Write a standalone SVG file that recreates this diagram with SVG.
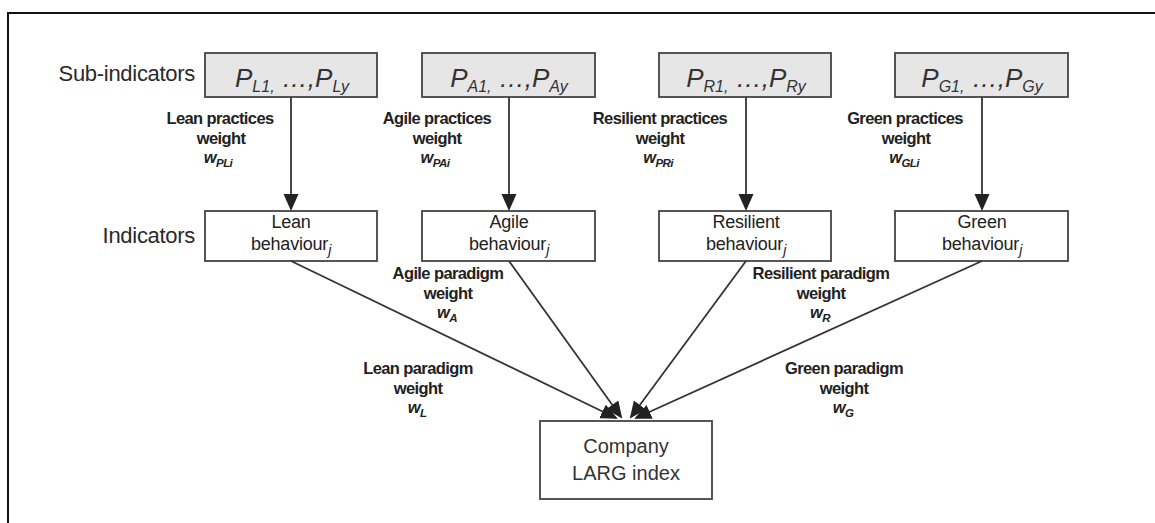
<svg xmlns="http://www.w3.org/2000/svg" width="1155" height="523" viewBox="0 0 1155 523">
<style>
.frame{fill:none;stroke:#111;stroke-width:2}
.sub{fill:#e6e6e6;stroke:#444;stroke-width:1.8}
.ind{fill:#fff;stroke:#444;stroke-width:1.8}
.conn{fill:none;stroke:#333;stroke-width:1.8}
.lbl{font-family:"Liberation Sans",Arial,sans-serif;font-size:22px;fill:#2a2a2a;letter-spacing:-0.3px}
.ptxt{font-family:"Liberation Sans",Arial,sans-serif;font-style:italic;font-size:26px;fill:#333}
.ps{font-size:16px}
.btxt{font-family:"Liberation Sans",Arial,sans-serif;font-size:18px;fill:#222;text-anchor:middle;letter-spacing:-0.2px}
.wl{font-family:"Liberation Sans",Arial,sans-serif;font-weight:bold;font-size:16.5px;fill:#222;text-anchor:middle;letter-spacing:-0.6px}
.wv{font-style:italic}
.ws{font-size:11.5px;font-style:italic}
.ctxt{font-family:"Liberation Sans",Arial,sans-serif;font-size:20px;fill:#333;text-anchor:middle}
</style>
<defs>
<marker id="ah" markerUnits="userSpaceOnUse" markerWidth="18" markerHeight="16" refX="15" refY="7.5" orient="auto" viewBox="0 0 18 16">
<path d="M0,0 L17,7.5 L0,15 z" fill="#222"/>
</marker>
</defs>
<path class="frame" d="M8,523 L8,13 L1155,13"/>
<text class="lbl" x="195" y="81" text-anchor="end">Sub-indicators</text>
<text class="lbl" x="195" y="243" text-anchor="end">Indicators</text>
<g id="sub-lean">
<rect class="sub" x="205" y="53" width="172" height="44"/>
<text class="ptxt" x="292" y="87" text-anchor="middle">P<tspan class="ps" dy="5">L1,</tspan><tspan dy="-5"> …,</tspan>P<tspan class="ps" dy="5">Ly</tspan></text>
</g>
<g id="sub-agile">
<rect class="sub" x="422" y="53" width="173" height="44"/>
<text class="ptxt" x="509" y="87" text-anchor="middle">P<tspan class="ps" dy="5">A1,</tspan><tspan dy="-5"> …,</tspan>P<tspan class="ps" dy="5">Ay</tspan></text>
</g>
<g id="sub-resilient">
<rect class="sub" x="659" y="53" width="172" height="44"/>
<text class="ptxt" x="746" y="87" text-anchor="middle">P<tspan class="ps" dy="5">R1,</tspan><tspan dy="-5"> …,</tspan>P<tspan class="ps" dy="5">Ry</tspan></text>
</g>
<g id="sub-green">
<rect class="sub" x="895" y="53" width="173" height="44"/>
<text class="ptxt" x="982" y="87" text-anchor="middle">P<tspan class="ps" dy="5">G1,</tspan><tspan dy="-5"> …,</tspan>P<tspan class="ps" dy="5">Gy</tspan></text>
</g>
<g id="ind-lean">
<rect class="ind" x="205" y="211" width="172" height="50"/>
<text class="btxt" x="291" y="228">Lean</text>
<text class="btxt" x="291" y="250">behaviour<tspan font-style="italic" font-size="14" dy="5">j</tspan></text>
</g>
<g id="ind-agile">
<rect class="ind" x="422" y="211" width="173" height="50"/>
<text class="btxt" x="509" y="228">Agile</text>
<text class="btxt" x="509" y="250">behaviour<tspan font-style="italic" font-size="14" dy="5">j</tspan></text>
</g>
<g id="ind-resilient">
<rect class="ind" x="659" y="211" width="172" height="50"/>
<text class="btxt" x="746" y="228">Resilient</text>
<text class="btxt" x="746" y="250">behaviour<tspan font-style="italic" font-size="14" dy="5">j</tspan></text>
</g>
<g id="ind-green">
<rect class="ind" x="895" y="211" width="173" height="50"/>
<text class="btxt" x="982" y="228">Green</text>
<text class="btxt" x="982" y="250">behaviour<tspan font-style="italic" font-size="14" dy="5">j</tspan></text>
</g>
<g id="company">
<rect class="ind" x="540" y="421" width="172" height="78"/>
<text class="ctxt" x="626" y="453">Company</text>
<text class="ctxt" x="626" y="480">LARG index</text>
</g>
<g id="connectors">
<line class="conn" x1="291" y1="97" x2="291" y2="209" marker-end="url(#ah)"/>
<line class="conn" x1="509" y1="97" x2="509" y2="209" marker-end="url(#ah)"/>
<line class="conn" x1="746" y1="97" x2="746" y2="209" marker-end="url(#ah)"/>
<line class="conn" x1="982" y1="97" x2="982" y2="209" marker-end="url(#ah)"/>
<line class="conn" x1="291" y1="261" x2="616" y2="418" marker-end="url(#ah)"/>
<line class="conn" x1="509" y1="261" x2="621" y2="417" marker-end="url(#ah)"/>
<line class="conn" x1="746" y1="261" x2="631" y2="417" marker-end="url(#ah)"/>
<line class="conn" x1="982" y1="261" x2="636" y2="418" marker-end="url(#ah)"/>
</g>
<g id="labels">
<text class="wl" x="220" y="124">Lean practices</text>
<text class="wl" x="221" y="144">weight</text>
<text class="wl" x="218" y="163"><tspan class="wv">w</tspan><tspan class="ws" dy="4">PLi</tspan></text>
<text class="wl" x="437" y="124">Agile practices</text>
<text class="wl" x="437" y="144">weight</text>
<text class="wl" x="435" y="163"><tspan class="wv">w</tspan><tspan class="ws" dy="4">PAi</tspan></text>
<text class="wl" x="660" y="124">Resilient practices</text>
<text class="wl" x="660" y="144">weight</text>
<text class="wl" x="658" y="163"><tspan class="wv">w</tspan><tspan class="ws" dy="4">PRi</tspan></text>
<text class="wl" x="905" y="124">Green practices</text>
<text class="wl" x="906" y="144">weight</text>
<text class="wl" x="904" y="163"><tspan class="wv">w</tspan><tspan class="ws" dy="4">GLi</tspan></text>
<text class="wl" x="448" y="279">Agile paradigm</text>
<text class="wl" x="448" y="299">weight</text>
<text class="wl" x="447" y="318"><tspan class="wv">w</tspan><tspan class="ws" dy="4">A</tspan></text>
<text class="wl" x="821" y="279">Resilient paradigm</text>
<text class="wl" x="821" y="299">weight</text>
<text class="wl" x="820" y="318"><tspan class="wv">w</tspan><tspan class="ws" dy="4">R</tspan></text>
<text class="wl" x="418" y="374">Lean paradigm</text>
<text class="wl" x="418" y="394">weight</text>
<text class="wl" x="417" y="413"><tspan class="wv">w</tspan><tspan class="ws" dy="4">L</tspan></text>
<text class="wl" x="844" y="374">Green paradigm</text>
<text class="wl" x="844" y="394">weight</text>
<text class="wl" x="843" y="413"><tspan class="wv">w</tspan><tspan class="ws" dy="4">G</tspan></text>
</g>
</svg>
